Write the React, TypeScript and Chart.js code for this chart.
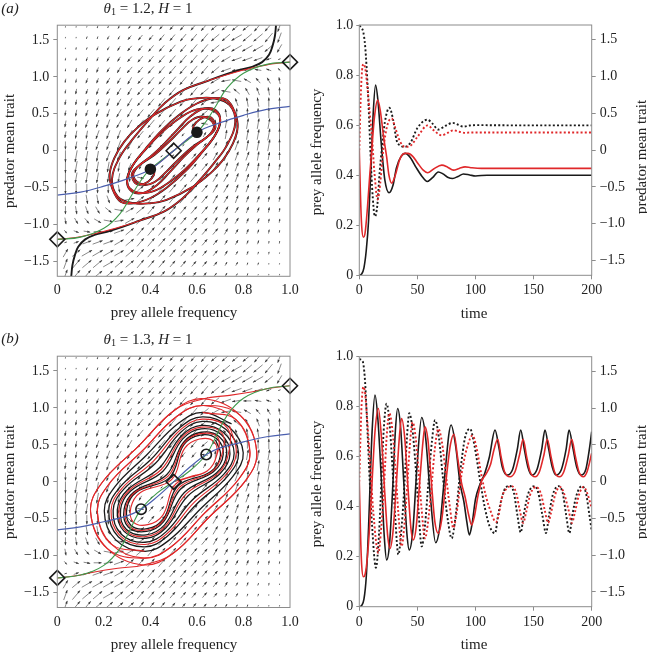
import React, { useEffect, useRef } from "react";
import { Chart, registerables } from "chart.js";

Chart.register(...registerables);

const SERIF = "'Liberation Serif', 'Times New Roman', Times, serif";
const INK = "#1a1a1a";
const RED = "#e0282a";
const BLUE = "#4b5fae";
const GREEN = "#3f9a4c";
const FRAME = "#8c8c8c";

type Pt = [number, number];

// ---------------- tick labels ----------------
const phaseXTicks = [0, 0.2, 0.4, 0.6, 0.8, 1.0];
const phaseYTicks = [-1.5, -1, -0.5, 0, 0.5, 1, 1.5];
const timeTicks = [0, 50, 100, 150, 200];
const freqTicks = [0, 0.2, 0.4, 0.6, 0.8, 1.0];
const traitTicks = [-1.5, -1, -0.5, 0, 0.5, 1, 1.5];

// ---------------- direction field ----------------
const fieldP = [0.035, 0.081, 0.127, 0.173, 0.219, 0.265, 0.311, 0.357, 0.403, 0.449, 0.495, 0.541, 0.587, 0.633, 0.679, 0.725, 0.771, 0.817, 0.863, 0.909, 0.955];
const fieldZ = [1.679, 1.533, 1.387, 1.241, 1.095, 0.949, 0.803, 0.657, 0.511, 0.365, 0.219, 0.073, -0.073, -0.219, -0.365, -0.511, -0.657, -0.803, -0.949, -1.095, -1.241, -1.387, -1.533, -1.679];
// direction, base-36 digit x 10 degrees (0 = right, 9 = up, i = left, r = down)
const fieldAngle = [
  "qqppoonnnnnnnnmmmmnnp",
  "qqppoonnnnnnnnmmlmmnp",
  "qqppoonnnnnnnnmllllmo",
  "qqppoonnnnnnnnmlkkkkk",
  "qqppoonnnnnnnnmkjihgd",
  "qqppooonnnnnnmljhfdca",
  "qqppooonnnnnnmlhecba9",
  "qqpppoonnnnnnmjdbaa99",
  "qqpppoonnnnnnmea99999",
  "qqpppoonnnnnnh9888889",
  "qqqppponnnnnn67888889",
  "rqqppponnnn4556778889",
  "rqqqpponnm55556777889",
  "rqqqqqpo5555556777888",
  "rqqqqqrz5555556677788",
  "rrrrrsw45555556677788",
  "rrsstv145555556677788",
  "rstuwz345555556667788",
  "suvxz1345555556667788",
  "vyz012455555555667788",
  "222223455555555667788",
  "643333455555555667788",
  "754434455555555667788",
  "755444455555555667788",
];
// relative speed 1..9
const fieldSpeed = [
  "111223345567788899998",
  "112233455667788899998",
  "122334556677888899987",
  "223344566778888888742",
  "233445667788888876543",
  "334455667788888776555",
  "344556677788887766666",
  "445566777888877667777",
  "455667778887766677788",
  "556677788765556778889",
  "566777876543346788899",
  "667778765432345788899",
  "998887543234567877766",
  "998887643345678777665",
  "988877655567887776655",
  "887776667788877766554",
  "777766778888777665544",
  "666667788887776655443",
  "555677888887766554433",
  "345678888887766544332",
  "247888888877665443322",
  "789998888776655433221",
  "899998887766554332211",
  "899998887765543322111",
];

// ---------------- panel (a) phase plane ----------------
const blueA: Pt[] = [[0, -0.6], [0.1, -0.56], [0.2, -0.48], [0.3, -0.38], [0.4, -0.25], [0.5, 0], [0.6, 0.25], [0.7, 0.38], [0.8, 0.48], [0.9, 0.56], [1, 0.6]];
const greenA: Pt[] = [[0, -1.2], [0.1, -1.17], [0.2, -1.05], [0.27, -0.85], [0.32, -0.6], [0.36, -0.4], [0.4, -0.25], [0.5, 0], [0.6, 0.25], [0.64, 0.4], [0.68, 0.6], [0.73, 0.85], [0.8, 1.05], [0.9, 1.17], [1, 1.2]];
const redEntryTRa: Pt[] = [[1, 1.2], [0.93, 1.18], [0.85, 1.13], [0.75, 1.05], [0.65, 0.95]];
const blackEntryTRa: Pt[] = [[0.94, 1.7], [0.935, 1.55], [0.925, 1.42], [0.91, 1.3], [0.88, 1.2], [0.84, 1.14], [0.78, 1.09], [0.72, 1.03], [0.65, 0.95]];
const redEntryBLa: Pt[] = [[0, -1.2], [0.07, -1.18], [0.15, -1.13], [0.25, -1.05], [0.35, -0.95]];
const blackEntryBLa: Pt[] = [[0.06, -1.7], [0.065, -1.55], [0.075, -1.42], [0.09, -1.3], [0.12, -1.2], [0.16, -1.14], [0.22, -1.09], [0.28, -1.03], [0.35, -0.95]];
const loopTRa: Pt[] = [[0.54, 0.82], [0.46, 0.64], [0.4, 0.44], [0.33, 0.18], [0.27, -0.08], [0.235, -0.39], [0.26, -0.62], [0.327, -0.71], [0.4, -0.71], [0.47, -0.665], [0.584, -0.485], [0.66, -0.3], [0.713, -0.12], [0.755, 0.1], [0.775, 0.32], [0.764, 0.51], [0.728, 0.69], [0.67, 0.71], [0.6, 0.64], [0.53, 0.5], [0.45, 0.28], [0.38, 0.03], [0.32, -0.22], [0.3, -0.42], [0.33, -0.55], [0.4, -0.56], [0.47, -0.45], [0.55, -0.25], [0.62, -0.02], [0.68, 0.22], [0.7, 0.42], [0.68, 0.55], [0.63, 0.57], [0.57, 0.46], [0.52, 0.3], [0.455, 0.08], [0.4, -0.08], [0.345, -0.22], [0.327, -0.35], [0.37, -0.46], [0.42, -0.42], [0.47, -0.28], [0.52, -0.12], [0.58, 0.05], [0.64, 0.18], [0.678, 0.3], [0.67, 0.42], [0.645, 0.46], [0.61, 0.42], [0.585, 0.33], [0.585, 0.26], [0.6, 0.24]];
const loopBLa: Pt[] = [[0.46, -0.82], [0.54, -0.64], [0.6, -0.44], [0.67, -0.18], [0.73, 0.08], [0.765, 0.39], [0.74, 0.62], [0.673, 0.71], [0.6, 0.71], [0.53, 0.665], [0.416, 0.485], [0.34, 0.3], [0.287, 0.12], [0.245, -0.1], [0.225, -0.32], [0.236, -0.51], [0.272, -0.69], [0.33, -0.71], [0.4, -0.64], [0.47, -0.5], [0.55, -0.28], [0.62, -0.03], [0.68, 0.22], [0.7, 0.42], [0.67, 0.55], [0.6, 0.56], [0.53, 0.45], [0.45, 0.25], [0.38, 0.02], [0.32, -0.22], [0.3, -0.42], [0.32, -0.55], [0.37, -0.57], [0.43, -0.46], [0.48, -0.3], [0.545, -0.08], [0.6, 0.08], [0.655, 0.22], [0.673, 0.35], [0.63, 0.46], [0.58, 0.42], [0.53, 0.28], [0.48, 0.12], [0.42, -0.05], [0.36, -0.18], [0.322, -0.3], [0.33, -0.42], [0.355, -0.46], [0.39, -0.42], [0.415, -0.33], [0.415, -0.26], [0.4, -0.24]];
const centreLinkA: Pt[] = [[0.4, -0.25], [0.45, -0.13], [0.5, 0], [0.55, 0.13], [0.6, 0.25]];
const saddlesA: Pt[] = [[0, -1.2], [0.5, 0], [1, 1.2]];
const stableA: Pt[] = [[0.4, -0.25], [0.6, 0.25]];

// ---------------- panel (b) phase plane ----------------
const blueB: Pt[] = [[0, -0.65], [0.1, -0.61], [0.2, -0.54], [0.3, -0.46], [0.36, -0.37], [0.43, -0.2], [0.5, 0], [0.57, 0.2], [0.64, 0.37], [0.7, 0.46], [0.8, 0.54], [0.9, 0.61], [1, 0.65]];
const greenB: Pt[] = [[0, -1.3], [0.1, -1.26], [0.2, -1.13], [0.27, -0.9], [0.32, -0.6], [0.36, -0.37], [0.43, -0.15], [0.5, 0], [0.57, 0.15], [0.64, 0.37], [0.68, 0.6], [0.73, 0.9], [0.8, 1.13], [0.9, 1.26], [1, 1.3]];
const redOuterTRb: Pt[] = [[1, 1.3], [0.92, 1.27], [0.84, 1.22], [0.74, 1.17], [0.629, 1.124], [0.505, 0.973], [0.348, 0.479], [0.191, -0.016], [0.143, -0.406], [0.214, -0.9], [0.371, -1.124], [0.495, -0.973], [0.652, -0.479], [0.809, 0.016], [0.857, 0.406], [0.786, 0.9], [0.627, 1.032], [0.513, 0.884], [0.366, 0.421], [0.219, -0.042], [0.172, -0.4], [0.232, -0.842], [0.373, -1.032], [0.487, -0.884], [0.634, -0.421], [0.781, 0.042], [0.828, 0.4], [0.768, 0.842], [0.625, 0.94]];
const redOuterBLb: Pt[] = [[0, -1.3], [0.08, -1.27], [0.16, -1.22], [0.26, -1.17], [0.371, -1.124], [0.495, -0.973], [0.652, -0.479], [0.809, 0.016], [0.857, 0.406], [0.786, 0.9], [0.629, 1.124], [0.505, 0.973], [0.348, 0.479], [0.191, -0.016], [0.143, -0.406], [0.214, -0.9], [0.373, -1.032], [0.487, -0.884], [0.634, -0.421], [0.781, 0.042], [0.828, 0.4], [0.768, 0.842], [0.627, 1.032], [0.513, 0.884], [0.366, 0.421], [0.219, -0.042], [0.172, -0.4], [0.232, -0.842], [0.375, -0.94]];
const blackSpiralB: Pt[] = [
  [0.749, 0.785], [0.625, 0.94], [0.522, 0.795], [0.384, 0.364], [0.247, -0.068], [0.202, -0.394], [0.251, -0.785], [0.375, -0.94], [0.478, -0.795], [0.616, -0.364], [0.753, 0.068], [0.799, 0.394],
  [0.737, 0.746], [0.624, 0.879], [0.527, 0.736], [0.403, 0.306], [0.266, -0.085], [0.221, -0.39], [0.263, -0.746], [0.376, -0.879], [0.473, -0.736], [0.597, -0.306], [0.734, 0.085], [0.779, 0.39],
  [0.725, 0.708], [0.623, 0.817], [0.533, 0.677], [0.421, 0.249], [0.285, -0.102], [0.24, -0.387], [0.275, -0.708], [0.377, -0.817], [0.467, -0.677], [0.579, -0.249], [0.715, 0.102], [0.76, 0.387],
  [0.713, 0.67], [0.619, 0.763], [0.535, 0.627], [0.439, 0.191], [0.301, -0.11], [0.258, -0.376], [0.287, -0.67], [0.381, -0.763], [0.465, -0.627], [0.561, -0.191], [0.699, 0.11], [0.742, 0.376],
  [0.704, 0.641], [0.618, 0.717], [0.539, 0.582], [0.454, 0.144], [0.315, -0.123], [0.272, -0.373], [0.296, -0.641], [0.382, -0.717], [0.461, -0.582], [0.546, -0.144], [0.685, 0.123], [0.728, 0.373],
  [0.695, 0.612], [0.618, 0.671], [0.543, 0.538], [0.47, 0.096], [0.329, -0.136], [0.287, -0.37], [0.305, -0.612], [0.383, -0.671], [0.457, -0.538], [0.53, -0.096], [0.671, 0.136], [0.713, 0.37],
  [0.685, 0.584], [0.614, 0.633], [0.544, 0.503], [0.482, 0.057], [0.34, -0.139], [0.299, -0.36], [0.315, -0.584], [0.386, -0.633], [0.456, -0.503], [0.518, -0.057], [0.66, 0.139], [0.701, 0.36], [0.68, 0.57],
];
const redInnerB: Pt[] = [
  [0.5, 0], [0.57, 0.07], [0.644, 0.147], [0.684, 0.349],
  [0.673, 0.545], [0.611, 0.579], [0.547, 0.453], [0.491, 0.029], [0.356, -0.147], [0.316, -0.349], [0.327, -0.545], [0.389, -0.579], [0.453, -0.453], [0.509, -0.029], [0.644, 0.147], [0.684, 0.349],
  [0.69, 0.598], [0.616, 0.652], [0.544, 0.521], [0.476, 0.077], [0.335, -0.138], [0.293, -0.365], [0.31, -0.598], [0.384, -0.652], [0.456, -0.521], [0.524, -0.077], [0.665, 0.138], [0.707, 0.365],
  [0.708, 0.656], [0.619, 0.74], [0.537, 0.605], [0.447, 0.167], [0.308, -0.117], [0.265, -0.374], [0.292, -0.656], [0.381, -0.74], [0.463, -0.605], [0.553, -0.167], [0.692, 0.117], [0.735, 0.374],
  [0.731, 0.727], [0.623, 0.848], [0.53, 0.706], [0.412, 0.278], [0.276, -0.094], [0.231, -0.389], [0.269, -0.727], [0.377, -0.848], [0.47, -0.706], [0.588, -0.278], [0.724, 0.094], [0.769, 0.389], [0.74, 0.76],
];
const saddlesB: Pt[] = [[0, -1.3], [0.5, 0], [1, 1.3]];
const unstableB: Pt[] = [[0.36, -0.37], [0.64, 0.37]];

// ---------------- panel (a) time series ----------------
const tPreyBlackA = [0, 2, 4, 6, 8, 10, 12, 14, 16, 19, 22, 25.6, 29, 32, 36, 39.5, 44, 49, 54, 58.5, 63, 68, 72, 76, 80.4, 85, 89.6, 95, 100, 110, 125, 150, 175, 200];
const preyBlackA = [0, 0.005, 0.03, 0.1, 0.22, 0.43, 0.65, 0.76, 0.7, 0.52, 0.38, 0.33, 0.36, 0.43, 0.475, 0.487, 0.47, 0.43, 0.395, 0.375, 0.39, 0.413, 0.405, 0.392, 0.387, 0.395, 0.405, 0.401, 0.397, 0.4, 0.4, 0.4, 0.4, 0.4];
const tPreyRedA = [0, 1, 2, 3.5, 5, 7, 9, 10.7, 13, 15.8, 18, 21, 23.5, 25.5, 27.9, 31, 35, 39.3, 42, 46, 50, 55, 58.8, 64, 71, 76, 81, 86, 91, 96, 105, 130, 160, 200];
const preyRedA = [0.5, 0.32, 0.2, 0.152, 0.17, 0.27, 0.4, 0.5, 0.63, 0.7, 0.66, 0.55, 0.474, 0.4, 0.368, 0.4, 0.465, 0.487, 0.487, 0.475, 0.45, 0.42, 0.41, 0.425, 0.44, 0.432, 0.42, 0.427, 0.433, 0.43, 0.427, 0.427, 0.427, 0.427];
const tPredBlackA = [0, 2, 3.5, 5, 6.3, 8, 9.2, 11, 13.5, 15.5, 17.5, 19.3, 22, 25.9, 29, 32.1, 35.5, 39.3, 44, 50, 58.5, 63, 68, 74, 80.4, 85, 89.6, 95, 100, 130, 160, 200];
const predBlackA = [1.69, 1.66, 1.6, 1.42, 1.12, 0.6, 0.13, -0.5, -0.9, -0.75, -0.3, 0, 0.38, 0.576, 0.42, 0.135, 0.06, 0.045, 0.1, 0.3, 0.414, 0.36, 0.28, 0.33, 0.37, 0.345, 0.32, 0.335, 0.34, 0.337, 0.337, 0.337];
const tPredRedA = [0, 1, 2, 3.5, 5, 7, 9, 10.7, 13, 15.8, 18, 20.6, 24, 27.9, 31, 35, 39.3, 44, 50, 58.8, 64, 71, 76, 81, 86, 91, 96, 130, 160, 200];
const predRedA = [0, 0.6, 1.0, 1.17, 1.12, 0.85, 0.5, 0.23, -0.3, -0.67, -0.45, 0, 0.33, 0.43, 0.3, 0.12, 0.045, 0.06, 0.18, 0.337, 0.27, 0.2, 0.235, 0.27, 0.25, 0.235, 0.24, 0.24, 0.24, 0.24];

// ---------------- panel (b) time series ----------------
const tPreyBlackB = [0, 2, 4, 6, 8, 9.2, 11, 13.5, 16, 19.3, 21.5, 23.5, 26, 29, 31, 33, 35.5, 38.5, 41, 43, 46, 49.5, 53.7, 57, 61, 65.7, 69, 73, 79, 83, 86.7, 90, 92.5, 94.7, 97, 100, 103.9, 108, 112, 116.8, 120, 123, 127.4, 132, 136, 138.9, 142, 145, 148.5, 153, 157, 159.8, 163, 166, 169.3, 174, 178, 180.5, 184, 187, 190.8, 195, 198, 200];
const preyBlackB = [0, 0.005, 0.03, 0.12, 0.32, 0.48, 0.7, 0.847, 0.75, 0.48, 0.28, 0.187, 0.25, 0.5, 0.7, 0.793, 0.72, 0.48, 0.29, 0.227, 0.3, 0.55, 0.757, 0.68, 0.45, 0.256, 0.31, 0.5, 0.727, 0.64, 0.494, 0.42, 0.34, 0.287, 0.33, 0.43, 0.49, 0.534, 0.6, 0.707, 0.64, 0.56, 0.527, 0.55, 0.63, 0.707, 0.63, 0.56, 0.527, 0.55, 0.63, 0.707, 0.63, 0.56, 0.527, 0.55, 0.63, 0.707, 0.63, 0.56, 0.527, 0.55, 0.63, 0.7];
const tPreyRedB = [0, 1, 2, 3.5, 5, 7, 9, 11, 13.5, 16.4, 19, 22, 24.5, 26.4, 29, 32, 34.5, 36.4, 39, 42, 44.5, 46.5, 49, 52, 55, 56.5, 59, 62, 65, 68, 71, 75, 78.5, 81.5, 84.5, 88, 91, 94, 96.7, 99, 102, 105, 109, 113, 116, 119.1, 122, 125, 129.7, 134, 138, 141, 144, 147, 151.3, 155, 159, 161.8, 165, 168, 172.3, 176, 180, 182.8, 186, 189, 192.8, 196, 200];
const preyRedB = [0.5, 0.3, 0.17, 0.12, 0.13, 0.2, 0.33, 0.5, 0.7, 0.793, 0.68, 0.45, 0.28, 0.233, 0.3, 0.5, 0.68, 0.753, 0.68, 0.47, 0.31, 0.267, 0.32, 0.5, 0.67, 0.72, 0.67, 0.5, 0.34, 0.293, 0.35, 0.52, 0.65, 0.69, 0.6, 0.494, 0.44, 0.37, 0.327, 0.36, 0.44, 0.5, 0.53, 0.57, 0.63, 0.67, 0.6, 0.54, 0.52, 0.54, 0.61, 0.67, 0.6, 0.54, 0.52, 0.54, 0.61, 0.67, 0.6, 0.54, 0.52, 0.54, 0.61, 0.67, 0.6, 0.54, 0.52, 0.54, 0.614];
const tPredBlackB = [0, 2, 3.5, 5, 7, 9, 11, 14.3, 17, 19, 21, 23.5, 26, 28.5, 31, 33.6, 36.5, 39, 41, 43, 45.5, 48.5, 51, 53.7, 56.5, 59.5, 62.5, 65.2, 68.5, 72, 76, 79.5, 83, 87, 91, 95.3, 99, 103.9, 108, 112, 116.8, 119.5, 123, 126, 129.7, 133, 136, 138.9, 141.5, 145, 148, 150.9, 154, 157.5, 160.7, 163.3, 166.5, 171.3, 175, 178, 180.8, 183.4, 187, 191.4, 195, 198, 200];
const predBlackB = [1.67, 1.65, 1.6, 1.35, 0.7, 0, -0.6, -1.17, -0.7, 0, 0.7, 1.06, 0.8, 0.2, -0.5, -0.99, -0.6, 0, 0.6, 0.93, 0.75, 0.2, -0.4, -0.88, -0.6, 0, 0.55, 0.836, 0.6, 0.05, -0.5, -0.77, -0.45, 0.15, 0.6, 0.72, 0.5, 0.02, -0.35, -0.6, -0.7, -0.45, -0.2, -0.08, -0.058, -0.15, -0.45, -0.69, -0.45, -0.18, -0.08, -0.06, -0.15, -0.45, -0.7, -0.45, -0.18, -0.06, -0.15, -0.45, -0.7, -0.45, -0.18, -0.06, -0.15, -0.45, -0.67];
const tPredRedB = [0, 1, 2, 3.5, 5, 7, 9.5, 12, 16.4, 19, 21.5, 23.5, 25.9, 28.5, 31, 33.5, 36.4, 39, 41.5, 43.5, 45.9, 48.5, 51, 53.5, 56.5, 59.5, 62.5, 65, 68, 71, 74.5, 78, 80.9, 84, 88, 92.5, 97.5, 101, 105, 109, 113, 117.6, 120, 123, 127, 131, 135, 138, 141, 143.5, 147, 150, 152, 156, 159.5, 162.5, 165, 168.5, 171, 172.6, 176, 180, 183, 185.5, 189, 191.5, 193, 196, 200];
const predRedB = [0, 0.6, 1.05, 1.29, 1.2, 0.8, 0.2, -0.4, -0.97, -0.6, 0, 0.6, 0.93, 0.7, 0.2, -0.4, -0.88, -0.55, 0, 0.5, 0.81, 0.6, 0.15, -0.35, -0.77, -0.5, 0, 0.45, 0.72, 0.55, 0.1, -0.35, -0.63, -0.4, 0.1, 0.45, 0.63, 0.45, 0.1, -0.2, -0.4, -0.55, -0.45, -0.2, -0.09, -0.06, -0.15, -0.38, -0.56, -0.42, -0.18, -0.09, -0.07, -0.15, -0.38, -0.56, -0.42, -0.18, -0.09, -0.07, -0.15, -0.38, -0.56, -0.42, -0.18, -0.09, -0.07, -0.15, -0.36];

// ---------------- helpers ----------------
const toXY = (arr: Pt[]) => arr.map(([x, y]) => ({ x, y }));
const zipXY = (xs: number[], ys: number[]) => xs.map((x, i) => ({ x, y: ys[i] }));
const fmtSigned = (v: number) => (Math.abs(v) < 1e-9 ? "0" : (v < 0 ? "\u2212" : "") + Math.abs(v).toFixed(1));
const fmtFrac = (v: number) => (Math.abs(v) < 1e-9 ? "0" : v.toFixed(1));
const tickFont = { family: SERIF, size: 14 };

const quiverPlugin = {
  id: "quiver",
  beforeDatasetsDraw(chart: any, _args: any, opts: any) {
    if (!opts || !opts.enabled) return;
    const { ctx, chartArea } = chart;
    const xs = chart.scales.x;
    const ys = chart.scales.y;
    ctx.save();
    ctx.beginPath();
    ctx.rect(chartArea.left, chartArea.top, chartArea.right - chartArea.left, chartArea.bottom - chartArea.top);
    ctx.clip();
    ctx.strokeStyle = "#3a3a3a";
    ctx.fillStyle = "#3a3a3a";
    ctx.lineWidth = 0.6;
    for (let j = 0; j < fieldZ.length; j++) {
      for (let i = 0; i < fieldP.length; i++) {
        const a = (parseInt(fieldAngle[j][i], 36) * 10 * Math.PI) / 180;
        const s = parseInt(fieldSpeed[j][i], 10);
        const len = s * 1.3;
        const cx = xs.getPixelForValue(fieldP[i]);
        const cy = ys.getPixelForValue(fieldZ[j]);
        const ux = Math.cos(a);
        const uy = -Math.sin(a);
        const x0 = cx - (ux * len) / 2;
        const y0 = cy - (uy * len) / 2;
        const x1 = cx + (ux * len) / 2;
        const y1 = cy + (uy * len) / 2;
        ctx.beginPath();
        ctx.moveTo(x0, y0);
        ctx.lineTo(x1, y1);
        ctx.stroke();
        const hl = Math.min(2.8, len * 0.5);
        const hw = hl * 0.4;
        ctx.beginPath();
        ctx.moveTo(x1 + ux * 0.5, y1 + uy * 0.5);
        ctx.lineTo(x1 - ux * hl - uy * hw, y1 - uy * hl + ux * hw);
        ctx.lineTo(x1 - ux * hl + uy * hw, y1 - uy * hl - ux * hw);
        ctx.closePath();
        ctx.fill();
      }
    }
    ctx.restore();
  },
};

const framePlugin = {
  id: "frame",
  afterDatasetsDraw(chart: any) {
    const { ctx, chartArea } = chart;
    ctx.save();
    ctx.strokeStyle = FRAME;
    ctx.lineWidth = 1;
    ctx.strokeRect(chartArea.left, chartArea.top, chartArea.right - chartArea.left, chartArea.bottom - chartArea.top);
    ctx.restore();
  },
};

function lineDs(data: Pt[], color: string, width: number, order: number) {
  return {
    data: toXY(data),
    showLine: true,
    borderColor: color,
    borderWidth: width,
    pointRadius: 0,
    tension: 0.4,
    fill: false,
    order,
  };
}

function phaseConfig(p: {
  padTop: number;
  xHeight: number;
  blue: Pt[];
  green: Pt[];
  black: Pt[][];
  red: Pt[][];
  blackWidth: number;
  saddles: Pt[];
  nodes: Pt[];
  filled: boolean;
}) {
  const datasets: any[] = [
    {
      data: toXY(p.saddles),
      pointStyle: "rectRot",
      pointRadius: 7.5,
      borderColor: INK,
      borderWidth: 1.6,
      backgroundColor: "rgba(255,255,255,0)",
      showLine: false,
      clip: false,
      order: 0,
    },
    {
      data: toXY(p.nodes),
      pointStyle: "circle",
      pointRadius: p.filled ? 5 : 5.2,
      borderColor: INK,
      borderWidth: 1.6,
      backgroundColor: p.filled ? INK : "rgba(255,255,255,0)",
      showLine: false,
      clip: false,
      order: 0,
    },
    lineDs(p.blue, BLUE, 1.2, 1),
    lineDs(p.green, GREEN, 1.1, 1),
    ...p.red.map((r) => lineDs(r, RED, 1.1, 2)),
    ...p.black.map((b) => lineDs(b, INK, p.blackWidth, 3)),
  ];
  return {
    type: "scatter",
    data: { datasets },
    plugins: [quiverPlugin, framePlugin],
    options: {
      animation: false,
      responsive: false,
      devicePixelRatio: 1,
      layout: { padding: { left: 0, top: p.padTop, right: 30, bottom: 0 } },
      plugins: { legend: { display: false }, tooltip: { enabled: false }, quiver: { enabled: true } },
      scales: {
        x: {
          type: "linear",
          min: 0,
          max: 1,
          afterBuildTicks: (s: any) => {
            s.ticks = phaseXTicks.map((v) => ({ value: v }));
          },
          afterFit: (s: any) => {
            s.height = p.xHeight;
          },
          grid: { display: false, drawTicks: false },
          border: { display: false },
          ticks: { font: tickFont, color: "#222", padding: 6, maxRotation: 0, callback: (v: any) => fmtFrac(Number(v)) },
        },
        y: {
          type: "linear",
          min: -1.7,
          max: 1.7,
          afterBuildTicks: (s: any) => {
            s.ticks = phaseYTicks.map((v) => ({ value: v }));
          },
          afterFit: (s: any) => {
            s.width = 57.3;
          },
          grid: { display: true, drawOnChartArea: false, drawTicks: true, tickLength: 4, color: FRAME },
          border: { display: false },
          ticks: { font: tickFont, color: "#222", padding: 4, callback: (v: any) => fmtSigned(Number(v)) },
        },
      },
    },
  };
}

function seriesDs(xs: number[], ys: number[], color: string, axis: string, dotted: boolean, order: number) {
  return {
    data: zipXY(xs, ys),
    showLine: true,
    borderColor: color,
    borderWidth: dotted ? 1.9 : 1.6,
    borderDash: dotted ? [2, 2.2] : [],
    pointRadius: 0,
    cubicInterpolationMode: "monotone",
    fill: false,
    yAxisID: axis,
    order,
  };
}

function timeConfig(p: { padTop: number; xHeight: number; sets: any[] }) {
  return {
    type: "scatter",
    data: { datasets: p.sets },
    plugins: [framePlugin],
    options: {
      animation: false,
      responsive: false,
      devicePixelRatio: 1,
      layout: { padding: { left: 0, top: p.padTop, right: 0, bottom: 0 } },
      plugins: { legend: { display: false }, tooltip: { enabled: false } },
      scales: {
        x: {
          type: "linear",
          min: 0,
          max: 200,
          afterBuildTicks: (s: any) => {
            s.ticks = timeTicks.map((v) => ({ value: v }));
          },
          afterFit: (s: any) => {
            s.height = p.xHeight;
          },
          grid: { display: true, drawOnChartArea: false, drawTicks: true, tickLength: 4, color: FRAME },
          border: { display: false },
          ticks: { font: tickFont, color: "#222", padding: 3, maxRotation: 0, callback: (v: any) => String(v) },
        },
        y: {
          type: "linear",
          position: "left",
          min: 0,
          max: 1,
          afterBuildTicks: (s: any) => {
            s.ticks = freqTicks.map((v) => ({ value: v }));
          },
          afterFit: (s: any) => {
            s.width = 39.3;
          },
          grid: { display: true, drawOnChartArea: false, drawTicks: true, tickLength: 3, color: FRAME },
          border: { display: false },
          ticks: { font: tickFont, color: "#222", padding: 3, callback: (v: any) => fmtFrac(Number(v)) },
        },
        y2: {
          type: "linear",
          position: "right",
          min: -1.7,
          max: 1.7,
          afterBuildTicks: (s: any) => {
            s.ticks = traitTicks.map((v) => ({ value: v }));
          },
          afterFit: (s: any) => {
            s.width = 55.3;
          },
          grid: { display: true, drawOnChartArea: false, drawTicks: true, tickLength: 4, color: FRAME },
          border: { display: false },
          ticks: { font: tickFont, color: "#222", padding: 4, callback: (v: any) => fmtSigned(Number(v)) },
        },
      },
    },
  };
}

function Label(props: { x: number; y: number; rot?: boolean; size?: number; italic?: boolean; children: any }) {
  return (
    <div
      style={{
        position: "absolute",
        left: props.x,
        top: props.y,
        transform: `translate(-50%, -50%)${props.rot ? " rotate(-90deg)" : ""}`,
        whiteSpace: "nowrap",
        fontFamily: SERIF,
        fontSize: props.size ?? 15,
        fontStyle: props.italic ? "italic" : "normal",
        color: "#222",
        lineHeight: 1,
      }}
    >
      {props.children}
    </div>
  );
}

function Title(props: { x: number; y: number; theta: string; h: string }) {
  return (
    <Label x={props.x} y={props.y}>
      <i>θ</i>
      <sub style={{ fontSize: "0.68em", verticalAlign: "-0.25em" }}>1</sub> = {props.theta}, <i>H</i> = {props.h}
    </Label>
  );
}

export default function App() {
  const refA = useRef<HTMLCanvasElement>(null);
  const refB = useRef<HTMLCanvasElement>(null);
  const refC = useRef<HTMLCanvasElement>(null);
  const refD = useRef<HTMLCanvasElement>(null);

  useEffect(() => {
    const charts: Chart[] = [];
    charts.push(
      new Chart(
        refA.current as HTMLCanvasElement,
        phaseConfig({
          padTop: 25.2,
          xHeight: 43.7,
          blue: blueA,
          green: greenA,
          black: [blackEntryTRa.concat(loopTRa), blackEntryBLa.concat(loopBLa)],
          red: [redEntryTRa.concat(loopTRa), redEntryBLa.concat(loopBLa), centreLinkA],
          blackWidth: 1.9,
          saddles: saddlesA,
          nodes: stableA,
          filled: true,
        }) as any
      )
    );
    charts.push(
      new Chart(
        refB.current as HTMLCanvasElement,
        timeConfig({
          padTop: 25,
          xHeight: 44.7,
          sets: [
            seriesDs(tPreyRedA, preyRedA, RED, "y", false, 0),
            seriesDs(tPredRedA, predRedA, RED, "y2", true, 1),
            seriesDs(tPreyBlackA, preyBlackA, INK, "y", false, 2),
            seriesDs(tPredBlackA, predBlackA, INK, "y2", true, 3),
          ],
        }) as any
      )
    );
    charts.push(
      new Chart(
        refC.current as HTMLCanvasElement,
        phaseConfig({
          padTop: 36.2,
          xHeight: 45.5,
          blue: blueB,
          green: greenB,
          black: [blackSpiralB],
          red: [redOuterTRb, redOuterBLb, redInnerB],
          blackWidth: 1.3,
          saddles: saddlesB,
          nodes: unstableB,
          filled: false,
        }) as any
      )
    );
    charts.push(
      new Chart(
        refD.current as HTMLCanvasElement,
        timeConfig({
          padTop: 36.7,
          xHeight: 46.3,
          sets: [
            seriesDs(tPreyRedB, preyRedB, RED, "y", false, 0),
            seriesDs(tPredRedB, predRedB, RED, "y2", true, 1),
            seriesDs(tPreyBlackB, preyBlackB, INK, "y", false, 2),
            seriesDs(tPredBlackB, predBlackB, INK, "y2", true, 3),
          ],
        }) as any
      )
    );
    return () => charts.forEach((c) => c.destroy());
  }, []);

  const cv = (left: number, top: number, w: number, h: number) => ({
    position: "absolute" as const,
    left,
    top,
    width: w,
    height: h,
  });

  return (
    <div style={{ position: "absolute", left: 0, top: 0, width: 647, height: 653, background: "#fff", overflow: "hidden" }}>
      <canvas ref={refA} width={320} height={320} style={cv(0, 0, 320, 320)} />
      <canvas ref={refB} width={327} height={320} style={cv(320, 0, 327, 320)} />
      <canvas ref={refC} width={320} height={333} style={cv(0, 320, 320, 333)} />
      <canvas ref={refD} width={327} height={333} style={cv(320, 320, 327, 333)} />

      <Label x={10} y={8} italic>(a)</Label>
      <Label x={10} y={338} italic>(b)</Label>
      <Title x={148} y={9} theta="1.2" h="1" />
      <Title x={148} y={340} theta="1.3" h="1" />

      <Label x={174} y={312}>prey allele frequency</Label>
      <Label x={174} y={644}>prey allele frequency</Label>
      <Label x={9} y={151} rot>predator mean trait</Label>
      <Label x={9} y={482} rot>predator mean trait</Label>

      <Label x={316} y={152} rot>prey allele frequency</Label>
      <Label x={316} y={484} rot>prey allele frequency</Label>
      <Label x={641} y={157} rot>predator mean trait</Label>
      <Label x={641} y={482} rot>predator mean trait</Label>
      <Label x={474} y={313}>time</Label>
      <Label x={474} y={644}>time</Label>
    </div>
  );
}
